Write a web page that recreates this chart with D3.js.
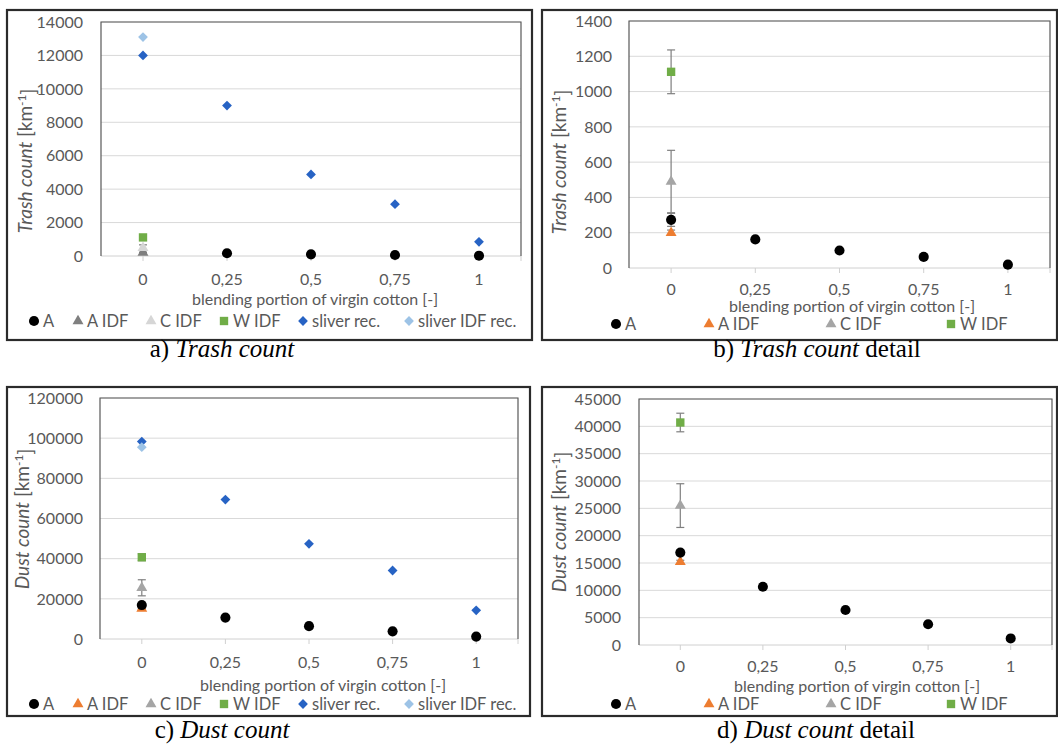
<!DOCTYPE html>
<html>
<head>
<meta charset="utf-8">
<script src="https://cdn.jsdelivr.net/npm/d3@7"></script>
<style>
  body { margin: 0; background: #fff; }
  text { font-family: Lato, "Open Sans", sans-serif; }
</style>
</head>
<body>
<script>
// x categories (blending portion of virgin cotton)
var xValues = [0, 0.25, 0.5, 0.75, 1];
var xTickLabels = ["0", "0,25", "0,5", "0,75", "1"];

// trash count [km-1]
var trashA = [273, 162, 99, 63, 19];
var trashAErr = [37, 0, 0, 0, 0];
var trashIdf = [200, 490, 1112];      // A IDF, C IDF, W IDF at x = 0
var trashIdfErr = [15, 177, 124];
var trashSliver = [12000, 9000, 4880, 3100, 850];
var trashSliverIdf = [13100];

// dust count [km-1]
var dustA = [16900, 10650, 6400, 3800, 1200];
var dustAErr = [500, 0, 0, 0, 0];
var dustIdf = [15200, 25500, 40700];
var dustIdfErr = [300, 4000, 1700];
var dustSliver = [98300, 69400, 47400, 34100, 14300];
var dustSliverIdf = [95500];

var idfNames = ["A IDF", "C IDF", "W IDF"];

var W = 1058, H = 744;
var svg = d3.select("body").append("svg")
    .attr("width", W)
    .attr("height", H);

var panels = [
  { box: [7, 10, 532, 340], plot: [101, 22, 521, 256], ymax: 14000, ystep: 2000,
    name: "Trash count", A: trashA, Aerr: trashAErr, skipA0: true,
    idf: trashIdf, idfErr: trashIdfErr, sliver: trashSliver, sliverIdf: trashSliverIdf,
    idfColors: ["#7f7f7f", "#d6d6d6", "#70ad47"],
    tickY: 279, titleX: 315, titleY: 299, legY: 321, yTickX: 83, yTitle: [25, 161],
    legX: [34, 78, 151, 224, 303, 409],
    caption: ["a) ", "Trash count", ""], capX: 222, capY: 357 },
  { box: [542, 10, 1057, 340], plot: [629, 21, 1050, 268], ymax: 1400, ystep: 200,
    name: "Trash count", A: trashA, Aerr: trashAErr, skipA0: false,
    idf: trashIdf, idfErr: trashIdfErr, sliver: null,
    idfColors: ["#ed7d31", "#a5a5a5", "#70ad47"],
    tickY: 289, titleX: 852, titleY: 306, legY: 324, yTickX: 612, yTitle: [559, 162],
    legX: [616, 709, 831, 951],
    caption: ["b) ", "Trash count", " detail"], capX: 817, capY: 357 },
  { box: [7, 387, 530, 716], plot: [100, 398, 518, 639], ymax: 120000, ystep: 20000,
    name: "Dust count", A: dustA, Aerr: dustAErr, skipA0: false,
    idf: dustIdf, idfErr: dustIdfErr, sliver: dustSliver, sliverIdf: dustSliverIdf,
    idfColors: ["#ed7d31", "#a5a5a5", "#70ad47"],
    tickY: 662, titleX: 323, titleY: 685, legY: 704, yTickX: 83, yTitle: [22, 519],
    legX: [34, 78, 151, 224, 303, 409],
    caption: ["c) ", "Dust count", ""], capX: 222, capY: 738 },
  { box: [542, 387, 1057, 716], plot: [639, 399, 1052, 645], ymax: 45000, ystep: 5000,
    name: "Dust count", A: dustA, Aerr: dustAErr, skipA0: false,
    idf: dustIdf, idfErr: dustIdfErr, sliver: null,
    idfColors: ["#ed7d31", "#a5a5a5", "#70ad47"],
    tickY: 666, titleX: 857, titleY: 686, legY: 704, yTickX: 621, yTitle: [559, 522],
    legX: [616, 709, 831, 951],
    caption: ["d) ", "Dust count", " detail"], capX: 816, capY: 738 }
];

var symCircle = d3.symbol().type(d3.symbolCircle).size(80)();
var symTri = d3.symbol().type(d3.symbolTriangle).size(52)();
var symSquare = d3.symbol().type(d3.symbolSquare).size(70)();
var symDiamond = d3.symbol().type(d3.symbolSquare).size(48)();
var idfSyms = [symTri, symTri, symSquare];

function drawPanel(p) {
  var g = svg.append("g");
  var l = p.plot[0], t = p.plot[1], r = p.plot[2], b = p.plot[3];

  var x = d3.scaleLinear().domain([-0.125, 1.125]).range([l, r]);
  var y = d3.scaleLinear().domain([0, p.ymax]).range([b, t]);
  var yTicks = d3.range(0, p.ymax + 1, p.ystep);

  // outer frame
  g.append("rect")
    .attr("x", p.box[0]).attr("y", p.box[1])
    .attr("width", p.box[2] - p.box[0]).attr("height", p.box[3] - p.box[1])
    .attr("fill", "none").attr("stroke", "#2b2b2b").attr("stroke-width", 2.2);

  // gridlines
  g.selectAll(".grid").data(yTicks.slice(1)).enter().append("line")
    .attr("x1", l).attr("x2", r)
    .attr("y1", function(d) { return y(d); }).attr("y2", function(d) { return y(d); })
    .attr("stroke", "#d9d9d9").attr("stroke-width", 1);

  // x axis line + small ticks
  g.append("line").attr("x1", l).attr("x2", r).attr("y1", b).attr("y2", b)
    .attr("stroke", "#d0d0d0").attr("stroke-width", 1);
  g.selectAll(".xt").data(xValues.concat([1.125])).enter().append("line")
    .attr("x1", function(d) { return x(d); }).attr("x2", function(d) { return x(d); })
    .attr("y1", b).attr("y2", b + 5)
    .attr("stroke", "#d0d0d0");

  // plot area border (top, left, right)
  g.append("path")
    .attr("d", "M" + l + "," + b + "V" + t + "H" + r + "V" + b)
    .attr("fill", "none").attr("stroke", "#595959").attr("stroke-width", 1.2);

  // y tick labels
  g.selectAll(".yl").data(yTicks).enter().append("text")
    .attr("x", p.yTickX).attr("y", function(d) { return y(d); })
    .attr("dy", "0.36em").attr("text-anchor", "end")
    .style("font-size", "16px").attr("fill", "#595959")
    .text(function(d) { return d; });

  // x tick labels
  g.selectAll(".xl").data(xValues).enter().append("text")
    .attr("x", function(d) { return x(d); }).attr("y", p.tickY)
    .attr("dy", "0.36em").attr("text-anchor", "middle")
    .style("font-size", "16px").attr("fill", "#595959")
    .text(function(d, i) { return xTickLabels[i]; });

  // x title
  g.append("text").attr("x", p.titleX).attr("y", p.titleY).attr("dy", "0.36em")
    .attr("text-anchor", "middle").style("font-size", "16px").attr("fill", "#595959")
    .text("blending portion of virgin cotton [-]");

  // y title
  var yt = g.append("text")
    .attr("transform", "translate(" + p.yTitle[0] + "," + p.yTitle[1] + ") rotate(-90)")
    .attr("text-anchor", "middle").attr("dy", "0.36em")
    .style("font-size", "19px").attr("fill", "#595959");
  yt.append("tspan").style("font-style", "italic").text(p.name);
  yt.append("tspan").text(" [km");
  yt.append("tspan").attr("dy", "-0.45em").style("font-size", "12px").text("-1");
  yt.append("tspan").attr("dy", "0.45em").text("]");

  // error bars
  var errs = [];
  p.A.forEach(function(v, i) {
    if (p.Aerr[i] > 0 && !(p.skipA0 && i === 0)) errs.push({ x: xValues[i], v: v, e: p.Aerr[i] });
  });
  p.idf.forEach(function(v, i) { errs.push({ x: 0, v: v, e: p.idfErr[i] }); });
  var eg = g.selectAll(".err").data(errs).enter().append("g").attr("stroke", "#7f7f7f").attr("stroke-width", 1.2);
  eg.append("line")
    .attr("x1", function(d) { return x(d.x); }).attr("x2", function(d) { return x(d.x); })
    .attr("y1", function(d) { return y(d.v - d.e); }).attr("y2", function(d) { return y(d.v + d.e); });
  eg.append("line")
    .attr("x1", function(d) { return x(d.x) - 4; }).attr("x2", function(d) { return x(d.x) + 4; })
    .attr("y1", function(d) { return y(d.v - d.e); }).attr("y2", function(d) { return y(d.v - d.e); });
  eg.append("line")
    .attr("x1", function(d) { return x(d.x) - 4; }).attr("x2", function(d) { return x(d.x) + 4; })
    .attr("y1", function(d) { return y(d.v + d.e); }).attr("y2", function(d) { return y(d.v + d.e); });

  // sliver series
  if (p.sliver) {
    g.selectAll(".sl").data(p.sliver).enter().append("path")
      .attr("d", symDiamond).attr("fill", "#2763c4")
      .attr("transform", function(d, i) { return "translate(" + x(xValues[i]) + "," + y(d) + ") rotate(45)"; });
    g.selectAll(".sli").data(p.sliverIdf).enter().append("path")
      .attr("d", symDiamond).attr("fill", "#9dc3e6")
      .attr("transform", function(d, i) { return "translate(" + x(xValues[i]) + "," + y(d) + ") rotate(45)"; });
  }

  // IDF markers at x = 0
  g.selectAll(".idf").data(p.idf).enter().append("path")
    .attr("d", function(d, i) { return idfSyms[i]; })
    .attr("fill", function(d, i) { return p.idfColors[i]; })
    .attr("transform", function(d) { return "translate(" + x(0) + "," + y(d) + ")"; });

  // series A
  var aData = p.A.map(function(v, i) { return { x: xValues[i], v: v }; });
  if (p.skipA0) aData = aData.slice(1);
  g.selectAll(".a").data(aData).enter().append("path")
    .attr("d", symCircle).attr("fill", "#000")
    .attr("transform", function(d) { return "translate(" + x(d.x) + "," + y(d.v) + ")"; });

  // legend
  var leg = [{ name: "A", sym: symCircle, c: "#000", rot: 0 }];
  idfNames.forEach(function(n, i) { leg.push({ name: n, sym: idfSyms[i], c: p.idfColors[i], rot: 0 }); });
  if (p.sliver) {
    leg.push({ name: "sliver rec.", sym: symDiamond, c: "#2763c4", rot: 45 });
    leg.push({ name: "sliver IDF rec.", sym: symDiamond, c: "#9dc3e6", rot: 45 });
  }
  var lg = g.selectAll(".leg").data(leg).enter().append("g")
    .attr("transform", function(d, i) { return "translate(" + p.legX[i] + "," + p.legY + ")"; });
  lg.append("path").attr("d", function(d) { return d.sym; })
    .attr("fill", function(d) { return d.c; })
    .attr("transform", function(d) { return "rotate(" + d.rot + ")"; });
  lg.append("text").attr("x", 9).attr("dy", "0.36em")
    .style("font-size", "16.5px").attr("fill", "#595959")
    .text(function(d) { return d.name; });

  // caption
  var cap = svg.append("text").attr("x", p.capX).attr("y", p.capY)
    .attr("text-anchor", "middle")
    .style("font-family", "'Liberation Serif', 'DejaVu Serif', serif")
    .style("font-size", "25px").attr("fill", "#000");
  cap.append("tspan").text(p.caption[0]);
  cap.append("tspan").style("font-style", "italic").text(p.caption[1]);
  cap.append("tspan").text(p.caption[2]);
}

panels.forEach(drawPanel);
</script>
</body>
</html>
